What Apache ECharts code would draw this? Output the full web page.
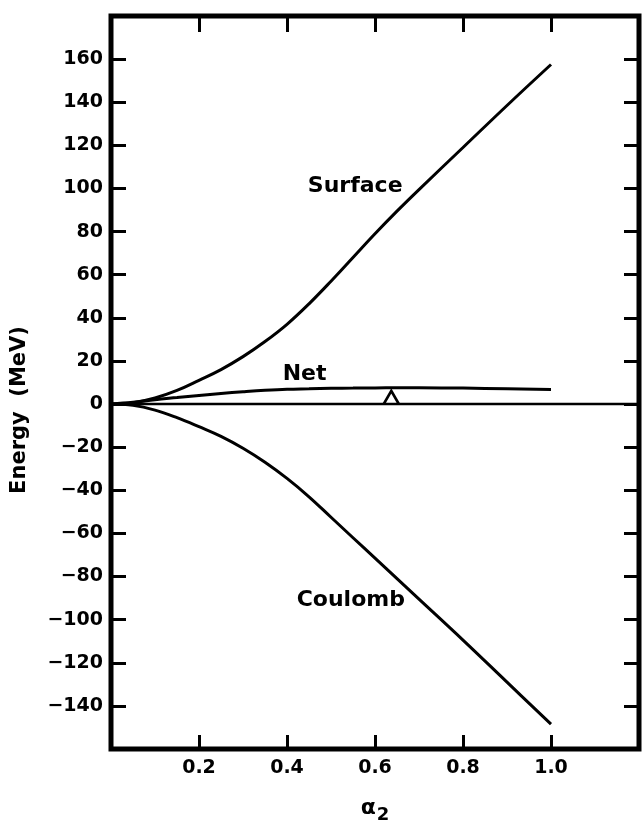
<!DOCTYPE html>
<html>
<head>
<meta charset="utf-8">
<script src="https://cdn.jsdelivr.net/npm/echarts@6/dist/echarts.min.js"></script>
<style>
html,body{margin:0;padding:0;background:#fff;}
#chart{width:642px;height:829px;}
</style>
</head>
<body>
<div id="chart"></div>
<script>
// Data
var alpha2 = [0, 0.05, 0.1, 0.15, 0.2, 0.25, 0.3, 0.35, 0.4, 0.45, 0.5, 0.55, 0.6, 0.65, 0.7, 0.8, 0.9, 1.0];
var surface = [0, 0.6, 2.8, 6.3, 11, 16, 22, 29, 37, 46.5, 57, 68, 79, 89.5, 99.5, 119, 138.5, 157.5];
var coulomb = [0, -0.6, -2.8, -6.3, -10.5, -15, -20.5, -27, -34.5, -43, -52.5, -62, -71.5, -81, -90.5, -109.5, -129, -148.5];
var net = [0, 0.8, 2.0, 3.0, 4.0, 4.9, 5.7, 6.4, 6.9, 7.1, 7.3, 7.4, 7.5, 7.55, 7.6, 7.4, 7.1, 6.8];
var zeroLine = [[0, 0], [1.2, 0]];
var triangleMark = [[0.637, 3.1]];
var xTicks = [0.2, 0.4, 0.6, 0.8, 1.0];
var yTicks = [-140, -120, -100, -80, -60, -40, -20, 0, 20, 40, 60, 80, 100, 120, 140, 160];
var curveLabels = [
  {name: 'Surface', value: [0.555, 101]},
  {name: 'Net', value: [0.44, 14]},
  {name: 'Coulomb', value: [0.545, -91]}
];

function pair(xs, ys) { return xs.map(function (x, i) { return [x, ys[i]]; }); }

var chart = echarts.init(document.getElementById('chart'), null, {renderer: 'canvas'});
var tickFont = {fontFamily: 'DejaVu Sans', fontWeight: 'bold', fontSize: 19, color: '#000'};
var lineStyle = {color: '#000', width: 3};

var option = {
  animation: false,
  backgroundColor: '#fff',
  grid: {left: 111, right: 3, top: 16, bottom: 66, show: true, borderColor: '#000', borderWidth: 5, backgroundColor: 'transparent'},
  xAxis: [{
    type: 'value', min: 0, max: 1.2, interval: 0.2, position: 'bottom',
    name: '{a|α}{s|2}', nameLocation: 'middle', nameGap: 43,
    nameTextStyle: {
      color: '#000',
      rich: {
        a: {fontFamily: 'DejaVu Sans', fontWeight: 'bold', fontSize: 22, color: '#000'},
        s: {fontFamily: 'DejaVu Sans', fontWeight: 'bold', fontSize: 18, color: '#000', padding: [14, 0, 0, 1]}
      }
    },
    axisLine: {show: false, onZero: false},
    axisTick: {show: true, inside: true, length: 14, lineStyle: {color: '#000', width: 3}, customValues: xTicks},
    axisLabel: Object.assign({margin: 10, customValues: xTicks, formatter: function (v) { return v.toFixed(1); }}, tickFont),
    splitLine: {show: false}
  }, {
    type: 'value', min: 0, max: 1.2, interval: 0.2, position: 'top',
    axisLine: {show: false, onZero: false},
    axisTick: {show: true, inside: true, length: 16, lineStyle: {color: '#000', width: 3}, customValues: xTicks},
    axisLabel: {show: false},
    splitLine: {show: false}
  }],
  yAxis: [{
    type: 'value', min: -160, max: 180, interval: 20, position: 'left',
    axisLine: {show: false, onZero: false},
    axisTick: {show: true, inside: true, length: 15, lineStyle: {color: '#000', width: 3}, customValues: yTicks},
    axisLabel: Object.assign({margin: 8, customValues: yTicks, formatter: function (v) { return v < 0 ? '\u2212' + (-v) : String(v); }}, tickFont),
    splitLine: {show: false}
  }, {
    type: 'value', min: -160, max: 180, interval: 20, position: 'right',
    axisLine: {show: false, onZero: false},
    axisTick: {show: true, inside: true, length: 15, lineStyle: {color: '#000', width: 3}, customValues: yTicks},
    axisLabel: {show: false},
    splitLine: {show: false}
  }],
  graphic: [{
    type: 'text', x: 20, y: 410, rotation: Math.PI / 2,
    style: {text: 'Energy  (MeV)', x: 0, y: 0, align: 'center', verticalAlign: 'middle',
      font: 'bold 21px "DejaVu Sans"', fill: '#000'}
  }],
  series: [
    {type: 'line', name: 'Surface', data: pair(alpha2, surface), smooth: 0.4, showSymbol: false, lineStyle: lineStyle},
    {type: 'line', name: 'Coulomb', data: pair(alpha2, coulomb), smooth: 0.4, showSymbol: false, lineStyle: lineStyle},
    {type: 'line', name: 'Net', data: pair(alpha2, net), smooth: 0.4, showSymbol: false, lineStyle: lineStyle},
    {type: 'line', name: 'zero', data: zeroLine, showSymbol: false, lineStyle: {color: '#000', width: 2.5}},
    {type: 'scatter', name: 'marker', data: triangleMark, symbol: 'triangle', symbolSize: [15, 13],
      itemStyle: {color: '#fff', borderColor: '#000', borderWidth: 2.5, opacity: 1}, z: 5},
    {type: 'scatter', name: 'labels', data: curveLabels, symbolSize: 0, itemStyle: {opacity: 1},
      label: {show: true, position: 'inside', formatter: '{b}', fontFamily: 'DejaVu Sans', fontWeight: 'bold', fontSize: 22, color: '#000'}}
  ]
};
chart.setOption(option);
</script>
</body>
</html>
